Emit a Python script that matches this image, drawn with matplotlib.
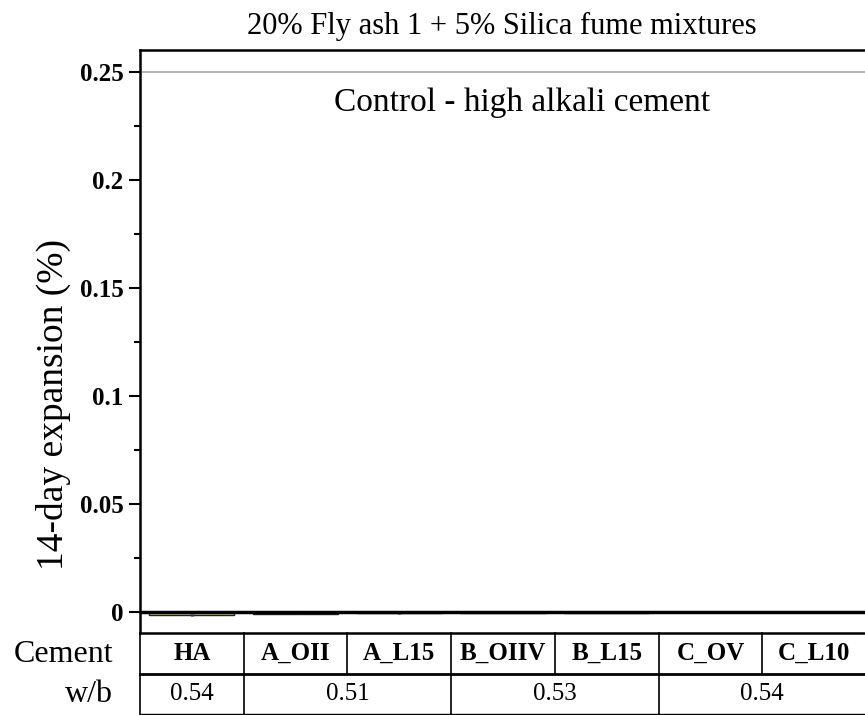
import matplotlib
matplotlib.use("Agg")
import matplotlib.pyplot as plt
import matplotlib.transforms as mtransforms
import numpy as np

plt.rcParams['font.family'] = ['Liberation Serif', 'DejaVu Serif']
plt.rcParams['hatch.linewidth'] = 1.5

# ---- data ----
cements = ["HA", "A_OII", "A_L15", "B_OIIV", "B_L15", "C_OV", "C_L10"]
expansion = [-0.0015, -0.0008, -0.0006, -0.0003, -0.0003, -0.0002, -0.0002]
errors = [0.0004, 0.0002, 0.0002, 0.0001, 0.0001, 0.0001, 0.0001]
wb = [0.54, 0.51, 0.51, 0.53, 0.53, 0.54, 0.54]
bar_colors = ["#d4d4a0", "#1a1a1a", "#9a9a9a", "#333333", "#555555", "#444444", "#666666"]
control_limit = 0.25
title = "20% Fly ash 1 + 5% Silica fume mixtures"
control_label = "Control - high alkali cement"
ylabel = "14-day expansion (%)"
yticks = [0, 0.05, 0.1, 0.15, 0.2, 0.25]
ytick_labels = ["0", "0.05", "0.1", "0.15", "0.2", "0.25"]

fig = plt.figure(figsize=(8.65, 7.15), dpi=100)
ax = fig.add_axes([140/865, 1-633/715, 726/865, 583/715])

x = np.arange(len(cements))
bars = ax.bar(x, expansion, width=0.82, color=bar_colors, edgecolor="#222222",
              linewidth=1.0, yerr=errors, error_kw=dict(ecolor="#333333", capsize=0, elinewidth=2.5))
bars[0].set_hatch("--")

ax.axhline(control_limit, color="#aaaaaa", lw=1.2, zorder=0)
ax.axhline(0, color="black", lw=2.5, zorder=3)
ax.text(3.18, 0.236, control_label, ha="center", va="center", fontsize=24)

ax.set_xlim(-0.5, 6.5)
ax.set_ylim(-0.0097, 0.2602)
ax.set_yticks(yticks)
ax.set_yticklabels(ytick_labels, fontweight="bold", fontsize=18)
ax.set_yticks(np.arange(0.025, 0.26, 0.05), minor=True)
ax.tick_params(axis="y", which="major", direction="out", length=8, width=1.5, pad=4)
ax.tick_params(axis="y", which="minor", direction="out", length=4, width=1.5)
ax.set_xticks([])
for s in ["left", "top", "bottom"]:
    ax.spines[s].set_linewidth(1.8)
ax.spines["right"].set_visible(False)
fig.text(53/865, 1-404/715, ylabel, rotation=90, ha="center", va="center", fontsize=27)
fig.text(502/865, 1-26/715, title, ha="center", va="center", fontsize=22)

# ---- table below the axes ----
trans = mtransforms.blended_transform_factory(ax.transData, ax.transAxes)
r1 = -41/583
r2 = -81/583
kw = dict(transform=trans, clip_on=False, color="black")
ax.plot([-0.5, 6.6], [r1, r1], lw=2, **kw)
ax.plot([-0.5, 6.6], [r2, r2], lw=1, **kw)
ax.plot([-0.5, -0.5], [0, r2], lw=1.2, **kw)
for i in range(1, len(cements)):
    ax.plot([i-0.5, i-0.5], [0, r1], lw=1.2, **kw)
for i, c in enumerate(cements):
    ax.text(i, (0+r1)/2, c, ha="center", va="center", fontsize=18,
            fontweight="bold", transform=trans)
# merged w/b groups
start = 0
for i in range(1, len(wb)+1):
    if i == len(wb) or wb[i] != wb[start]:
        ax.text((start + i - 1)/2, (r1+r2)/2, f"{wb[start]:.2f}", ha="center",
                va="center", fontsize=18, transform=trans)
        if i < len(wb):
            ax.plot([i-0.5, i-0.5], [r1, r2], lw=1.2, **kw)
        start = i

fig.text(113/865, 1-655/715, "Cement", ha="right", va="center", fontsize=23)
fig.text(113/865, 1-695/715, "w/b", ha="right", va="center", fontsize=23)

fig.savefig("out.png", dpi=100)
